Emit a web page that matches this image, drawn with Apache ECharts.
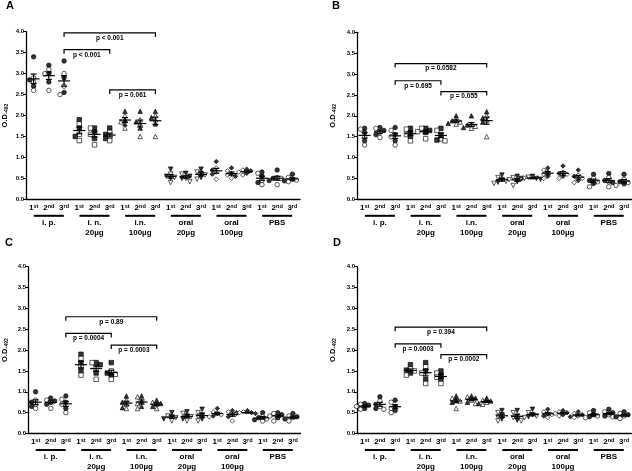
<!DOCTYPE html>
<html><head><meta charset="utf-8">
<script src="https://cdn.jsdelivr.net/npm/echarts@6/dist/echarts.min.js"></script>
<style>html,body{margin:0;padding:0;background:#fff}#c{width:632px;height:471px}</style>
</head><body><div id="c"></div>
<script>
// ---------- labels ----------
const timepoints = [['1', 'st'], ['2', 'nd'], ['3', 'rd']];
const groupNames = ['i. p.', 'i. n.|20µg', 'i.n.|100µg', 'oral|20µg', 'oral|100µg', 'PBS'];
const panelLetters = ['A', 'B', 'C', 'D'];
const yAxisName = ['O.D.', '492'];

// ---------- Panel A ----------
const A_ip    = [[3.4, 2.9, 2.85, 2.8, 2.7, 2.6], [3.2, 3.1, 3.0, 3.0, 2.8, 2.6], [3.3, 3.0, 2.9, 2.7, 2.55, 2.5]];
const A_in20  = [[1.9, 1.8, 1.7, 1.55, 1.5, 1.4], [1.7, 1.7, 1.6, 1.55, 1.45, 1.3], [1.7, 1.6, 1.55, 1.5, 1.45, 1.4]];
const A_in100 = [[2.1, 2.0, 1.9, 1.85, 1.8, 1.7], [2.1, 1.9, 1.85, 1.8, 1.7, 1.5], [2.1, 2.0, 1.95, 1.9, 1.8, 1.5]];
const A_or20  = [[0.72, 0.6, 0.55, 0.52, 0.5, 0.4], [0.62, 0.6, 0.55, 0.5, 0.5, 0.42], [0.72, 0.65, 0.62, 0.58, 0.52, 0.48]];
const A_or100 = [[0.9, 0.75, 0.7, 0.65, 0.6, 0.48], [0.75, 0.68, 0.62, 0.58, 0.55, 0.5], [0.72, 0.7, 0.68, 0.65, 0.62, 0.58]];
const A_pbs   = [[0.65, 0.62, 0.55, 0.45, 0.4, 0.35], [0.7, 0.52, 0.5, 0.5, 0.45, 0.35], [0.6, 0.52, 0.48, 0.46, 0.44, 0.42]];
const A_brackets = [[2, 8, 3.97, 'p < 0.001'], [2, 5, 3.57, 'p < 0.001'], [5, 8, 2.61, 'p = 0.061']];

// ---------- Panel B ----------
const B_ip    = [[1.7, 1.68, 1.6, 1.5, 1.4, 1.3], [1.72, 1.7, 1.65, 1.6, 1.55, 1.48], [1.72, 1.65, 1.55, 1.5, 1.4, 1.3]];
const B_in20  = [[1.7, 1.68, 1.6, 1.55, 1.5, 1.4], [1.7, 1.7, 1.65, 1.62, 1.6, 1.45], [1.7, 1.65, 1.55, 1.45, 1.42, 1.4]];
const B_in100 = [[2.0, 1.9, 1.88, 1.85, 1.82, 1.8], [2.0, 1.8, 1.78, 1.75, 1.72, 1.7], [2.1, 2.0, 1.95, 1.9, 1.85, 1.5]];
const B_or20  = [[0.58, 0.52, 0.47, 0.43, 0.41, 0.38], [0.55, 0.52, 0.5, 0.47, 0.42, 0.33], [0.55, 0.53, 0.5, 0.5, 0.48, 0.47]];
const B_or100 = [[0.75, 0.7, 0.65, 0.6, 0.55, 0.5], [0.8, 0.65, 0.62, 0.6, 0.55, 0.5], [0.7, 0.58, 0.55, 0.5, 0.45, 0.4]];
const B_pbs   = [[0.6, 0.5, 0.45, 0.42, 0.38, 0.3], [0.62, 0.52, 0.45, 0.42, 0.4, 0.3], [0.6, 0.48, 0.42, 0.4, 0.37, 0.33]];
const B_brackets = [[2, 8, 3.25, 'p = 0.0582'], [2, 5, 2.84, 'p = 0.695'], [5, 8, 2.58, 'p = 0.055']];

// ---------- Panel C ----------
const C_ip    = [[1.0, 0.8, 0.75, 0.7, 0.65, 0.6], [0.85, 0.8, 0.78, 0.75, 0.7, 0.6], [0.9, 0.82, 0.75, 0.7, 0.6, 0.5]];
const C_in20  = [[1.9, 1.8, 1.7, 1.6, 1.5, 1.4], [1.7, 1.7, 1.65, 1.55, 1.45, 1.3], [1.7, 1.5, 1.45, 1.42, 1.4, 1.3]];
const C_in100 = [[0.9, 0.8, 0.75, 0.7, 0.62, 0.6], [0.9, 0.88, 0.78, 0.72, 0.65, 0.6], [0.8, 0.75, 0.72, 0.7, 0.65, 0.6]];
const C_or20  = [[0.5, 0.42, 0.4, 0.38, 0.35, 0.3], [0.52, 0.48, 0.42, 0.4, 0.35, 0.3], [0.58, 0.5, 0.45, 0.4, 0.35, 0.3]];
const C_or100 = [[0.6, 0.52, 0.48, 0.45, 0.42, 0.4], [0.55, 0.52, 0.5, 0.45, 0.4, 0.3], [0.55, 0.52, 0.5, 0.5, 0.48, 0.46]];
const C_pbs   = [[0.5, 0.4, 0.38, 0.35, 0.33, 0.3], [0.5, 0.48, 0.45, 0.42, 0.38, 0.3], [0.48, 0.42, 0.4, 0.38, 0.35, 0.3]];
const C_brackets = [[2, 8, 2.80, 'p = 0.89'], [2, 5, 2.40, 'p = 0.0004'], [5, 8, 2.12, 'p = 0.0003']];

// ---------- Panel D ----------
const D_ip    = [[0.72, 0.7, 0.68, 0.65, 0.6, 0.58], [0.88, 0.78, 0.7, 0.65, 0.6, 0.58], [0.8, 0.75, 0.65, 0.6, 0.55, 0.5]];
const D_in20  = [[1.65, 1.55, 1.52, 1.5, 1.45, 1.4], [1.7, 1.6, 1.5, 1.45, 1.3, 1.2], [1.5, 1.45, 1.4, 1.35, 1.3, 1.2]];
const D_in100 = [[0.9, 0.85, 0.8, 0.78, 0.75, 0.6], [0.9, 0.88, 0.85, 0.8, 0.75, 0.72], [0.85, 0.8, 0.78, 0.75, 0.72, 0.7]];
const D_or20  = [[0.55, 0.5, 0.45, 0.4, 0.35, 0.3], [0.55, 0.5, 0.42, 0.38, 0.32, 0.3], [0.58, 0.5, 0.45, 0.42, 0.4, 0.38]];
const D_or100 = [[0.58, 0.52, 0.48, 0.45, 0.42, 0.38], [0.55, 0.52, 0.5, 0.48, 0.45, 0.42], [0.52, 0.48, 0.45, 0.42, 0.4, 0.38]];
const D_pbs   = [[0.55, 0.5, 0.45, 0.42, 0.4, 0.38], [0.58, 0.52, 0.5, 0.45, 0.42, 0.4], [0.52, 0.48, 0.45, 0.42, 0.4, 0.36]];
const D_brackets = [[2, 8, 2.55, 'p = 0.394'], [2, 5, 2.15, 'p = 0.0003'], [5, 8, 1.89, 'p = 0.0002']];

const panels = [
  {groups: [A_ip, A_in20, A_in100, A_or20, A_or100, A_pbs], brackets: A_brackets},
  {groups: [B_ip, B_in20, B_in100, B_or20, B_or100, B_pbs], brackets: B_brackets},
  {groups: [C_ip, C_in20, C_in100, C_or20, C_or100, C_pbs], brackets: C_brackets},
  {groups: [D_ip, D_in20, D_in100, D_or20, D_or100, D_pbs], brackets: D_brackets}
];

// ---------- styling / layout ----------
const FONT = '"Liberation Sans", Arial, sans-serif';
const grids = [
  {left: 25, top: 31.7, width: 275, height: 167.6},
  {left: 357, top: 32.3, width: 275, height: 167},
  {left: 25.5, top: 266.7, width: 275, height: 168.3},
  {left: 357, top: 266.7, width: 275, height: 167.6}
];
const letterPos = [{left: 6, top: 0.5}, {left: 332, top: 0.5}, {left: 5, top: 237.5}, {left: 333, top: 237.5}];
const nameGaps = [17, 20, 19, 20];
const symbols = ['circle', 'rect', 'triangle', 'path://M0,0 L10,0 L5,9 Z', 'diamond', 'circle'];
const PX_PER_UNIT = 42;
const SYM = 4.5;

function stats(arr) {
  const n = arr.length;
  const m = arr.reduce((a, b) => a + b, 0) / n;
  const sd = Math.sqrt(arr.reduce((a, b) => a + (b - m) * (b - m), 0) / (n - 1));
  return [m, sd / Math.sqrt(n)];
}

// beeswarm-like horizontal dodge (pixel offsets) so points do not overlap
function dodge(vals) {
  const placed = [];
  const order = vals.map((v, i) => i).sort((a, b) => vals[b] - vals[a]);
  const offs = new Array(vals.length).fill(0);
  const cands = [0, -4, 4, -8, 8, -12, 12];
  order.forEach(i => {
    for (const c of cands) {
      const hit = placed.some(p => Math.abs(p.v - vals[i]) * PX_PER_UNIT < SYM - 0.5 && Math.abs(p.x - c) < SYM - 0.5);
      if (!hit) { offs[i] = c; placed.push({v: vals[i], x: c}); break; }
    }
  });
  return offs;
}

const catIds = [];
groupNames.forEach((g, gi) => timepoints.forEach((t, ti) => catIds.push(gi * 3 + ti)));

const xAxis = [], yAxis = [], series = [], title = [];
panels.forEach((p, pi) => {
  title.push({text: panelLetters[pi], left: letterPos[pi].left, top: letterPos[pi].top, padding: 0,
    textStyle: {fontFamily: FONT, fontWeight: 'bold', fontSize: 11, color: '#000'}});
  xAxis.push({
    type: 'category', gridIndex: pi, data: catIds.map(String),
    axisLine: {lineStyle: {color: '#000', width: 1.3}},
    axisTick: {alignWithLabel: true, length: 3, lineStyle: {color: '#000', width: 1}},
    axisLabel: {
      interval: 0, margin: 4, color: '#000',
      formatter: (v, idx) => '{n|' + timepoints[idx % 3][0] + '}{s|' + timepoints[idx % 3][1] + '}',
      rich: {
        n: {fontFamily: FONT, fontWeight: 'bold', fontSize: 8, color: '#000', lineHeight: 9},
        s: {fontFamily: FONT, fontWeight: 'bold', fontSize: 5.5, color: '#000', verticalAlign: 'top', lineHeight: 9}
      }
    }
  });
  xAxis.push({
    type: 'category', gridIndex: pi, data: groupNames, position: 'bottom',
    axisLine: {show: false}, axisTick: {show: false},
    axisLabel: {
      interval: 0, margin: 14.5, color: '#000',
      formatter: v => '{bar|}\n' + v.split('|').map(t => '{t|' + t + '}').join('\n'),
      rich: {
        bar: {width: 30, height: 2, backgroundColor: '#000', lineHeight: 4},
        t: {fontFamily: FONT, fontWeight: 'bold', fontSize: 8, color: '#000', lineHeight: 10}
      }
    }
  });
  yAxis.push({
    type: 'value', gridIndex: pi, min: 0, max: 4, interval: 0.5,
    name: yAxisName[0] + '{sub|' + yAxisName[1] + '}', nameLocation: 'middle', nameRotate: 90, nameGap: nameGaps[pi],
    nameTextStyle: {fontFamily: FONT, fontWeight: 'bold', fontSize: 7.5, color: '#000',
      rich: {sub: {fontFamily: FONT, fontWeight: 'bold', fontSize: 5, color: '#000', verticalAlign: 'bottom'}}},
    axisLine: {show: true, lineStyle: {color: '#000', width: 1.3}},
    axisTick: {show: true, length: 3, lineStyle: {color: '#000', width: 1}},
    splitLine: {show: false},
    axisLabel: {margin: 2, color: '#000', fontFamily: FONT, fontWeight: 'bold', fontSize: 6,
      formatter: v => v.toFixed(1)}
  });

  const pts = [], ms = [];
  p.groups.forEach((g, gi) => g.forEach((vals, ti) => {
    const ci = gi * 3 + ti;
    const offs = dodge(vals);
    vals.forEach((v, k) => {
      const filled = k % 2 === 0;
      pts.push({
        value: [ci, v], symbol: symbols[gi], symbolOffset: [offs[k], 0],
        itemStyle: {color: filled ? '#000' : '#fff', borderColor: '#000', borderWidth: 0.8}
      });
    });
    const [m, se] = stats(vals);
    ms.push([ci, m, se]);
  }));

  series.push({
    type: 'scatter', xAxisIndex: pi * 2, yAxisIndex: pi, data: pts, symbolSize: SYM,
    animation: false, silent: true, z: 2
  });
  series.push({
    type: 'custom', xAxisIndex: pi * 2, yAxisIndex: pi, data: ms, z: 3, animation: false, silent: true,
    renderItem: (params, api) => {
      const x = api.value(0), m = api.value(1), s = api.value(2);
      const c = api.coord([x, m]), t = api.coord([x, m + s]), b = api.coord([x, m - s]);
      const st = {stroke: '#000', lineWidth: 1.2};
      return {type: 'group', children: [
        {type: 'line', shape: {x1: c[0] - 6, y1: c[1], x2: c[0] + 6, y2: c[1]}, style: st},
        {type: 'line', shape: {x1: c[0], y1: t[1], x2: c[0], y2: b[1]}, style: st},
        {type: 'line', shape: {x1: c[0] - 3, y1: t[1], x2: c[0] + 3, y2: t[1]}, style: st},
        {type: 'line', shape: {x1: c[0] - 3, y1: b[1], x2: c[0] + 3, y2: b[1]}, style: st}
      ]};
    }
  });
  const br = p.brackets;
  series.push({
    type: 'custom', xAxisIndex: pi * 2, yAxisIndex: pi, data: br.map(b => [b[0], b[1], b[2]]),
    z: 4, animation: false, silent: true, clip: false,
    renderItem: (params, api) => {
      const l = api.coord([api.value(0), api.value(2)]);
      const r = api.coord([api.value(1), api.value(2)]);
      const st = {stroke: '#000', lineWidth: 1.2, fill: null};
      return {type: 'group', children: [
        {type: 'polyline', shape: {points: [[l[0], l[1] + 4], [l[0], l[1]], [r[0], r[1]], [r[0], r[1] + 4]]}, style: st},
        {type: 'text', style: {text: br[params.dataIndex][3], x: (l[0] + r[0]) / 2, y: l[1] + 5,
          textAlign: 'center', textVerticalAlign: 'middle', fill: '#000',
          font: 'bold 6.5px ' + FONT}}
      ]};
    }
  });
});

const chart = echarts.init(document.getElementById('c'), null, {renderer: 'canvas'});
chart.setOption({
  backgroundColor: '#fff', animation: false,
  title, grid: grids, xAxis, yAxis, series
});
</script></body></html>
